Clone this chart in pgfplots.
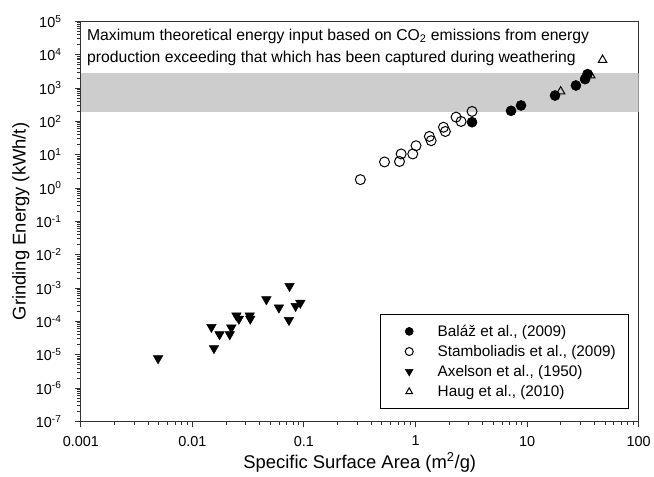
\documentclass[border=0pt]{standalone}
\usepackage{fontspec}
\setmainfont{Liberation Sans}
\usepackage{pgfplots}
\pgfplotsset{compat=1.18}
\usetikzlibrary{calc}
\definecolor{band}{RGB}{205,205,205}
\definecolor{axisgray}{RGB}{50,50,50}
\begin{document}
\begin{tikzpicture}
\begin{axis}[
  xmode=log, ymode=log,
  width=558.5bp, height=400.5bp, scale only axis,
  xmin=0.001, xmax=100, ymin=1e-7, ymax=1e5,
  xtick={0.001,0.01,0.1,1,10,100},
  xticklabels={0.001,0.01,0.1,1,10,100},
  minor xtick={0.002,0.003,0.004,0.005,0.006,0.007,0.008,0.009,
    0.02,0.03,0.04,0.05,0.06,0.07,0.08,0.09,
    0.2,0.3,0.4,0.5,0.6,0.7,0.8,0.9,
    2,3,4,5,6,7,8,9,20,30,40,50,60,70,80,90},
  ytick={1e-7,1e-6,1e-5,1e-4,1e-3,1e-2,1e-1,1,10,100,1000,1e4,1e5},
  yticklabels={10\textsuperscript{-7},10\textsuperscript{-6},10\textsuperscript{-5},10\textsuperscript{-4},10\textsuperscript{-3},10\textsuperscript{-2},10\textsuperscript{-1},10\textsuperscript{0},10\textsuperscript{1},10\textsuperscript{2},10\textsuperscript{3},10\textsuperscript{4},10\textsuperscript{5}},
  minor ytick={},
  tick pos=left, tick align=outside,
  major tick length=6bp, minor tick length=3.5bp,
  axis line style={axisgray, line width=1.2bp},
  every tick/.style={axisgray, line width=1bp},
  ticklabel style={font=\fontsize{14.5}{16}\selectfont},
  yticklabel style={xshift=-10bp},
  xticklabel style={yshift=-5bp},
  xlabel={Specific Surface Area (m\textsuperscript{2}/g)},
  ylabel={Grinding Energy (kWh/t)},
  label style={font=\fontsize{18.5}{20}\selectfont},
  xlabel style={at={(rel axis cs:0.5,0)}, anchor=center, yshift=-41bp},
  ylabel style={at={(rel axis cs:0,0.5)}, anchor=center, yshift=60bp},
  legend style={at={(rel axis cs:1,0)}, anchor=south east, xshift=-10bp, yshift=12bp,
    draw=black, line width=1bp, font=\fontsize{15.4}{18}\selectfont,
    inner xsep=10.5bp, inner ysep=9bp, row sep=3.5bp},
  legend cell align=left,
  legend image code/.code={\path[draw=none] (0bp,0bp) -- (45bp,0bp); \draw[#1, every mark/.append style={scale=0.8}] plot coordinates {(18.5bp,0bp)};},
]
\addplot[fill=band, draw=none, forget plot] coordinates {(0.001,195) (100,195) (100,2750) (0.001,2750)} -- cycle;
\node[anchor=north west, align=left, font=\fontsize{15.8}{23}\selectfont, inner sep=0pt]
  at ($(rel axis cs:0,1)+(6bp,-7bp)$) {Maximum theoretical energy input based on CO\textsubscript{2} emissions from energy\\production exceeding that which has been captured during weathering};
\addplot[only marks, mark=*, mark size=5bp, mark options={fill=black, draw=black, line width=0.6bp}]
  coordinates {(3.21,95) (7.18,209) (8.82,302) (17.8,600) (27.4,1200) (33.1,1860) (34.8,2630)};
\addlegendentry{Bal\'{a}\v{z} et al., (2009)}
\addplot[only marks, mark=o, mark size=5bp, mark options={draw=black, fill=white, line width=1bp}]
  coordinates {(0.32,1.8) (0.527,6.1) (0.718,6.3) (0.743,10.6) (0.944,10.6) (1.01,18.7) (1.33,35.5) (1.38,26.5) (1.78,67) (1.85,50) (2.31,135) (2.56,100) (3.21,200)};
\addlegendentry{Stamboliadis et al., (2009)}
\addplot[only marks, mark=triangle*, mark size=5.5bp, mark options={rotate=180, fill=black, draw=black, line width=0.5bp}]
  coordinates {(0.00492,7.8e-6) (0.0156,1.57e-5) (0.0148,6.8e-5) (0.0175,4.1e-5) (0.0216,4.1e-5) (0.0223,6.5e-5) (0.0248,1.5e-4) (0.0261,1.2e-4) (0.0326,1.5e-4) (0.033,1.2e-4) (0.046,4.6e-4) (0.0596,2.6e-4) (0.0742,1.15e-3) (0.0733,1.1e-4) (0.0841,2.9e-4) (0.0927,3.6e-4)};
\addlegendentry{Axelson et al., (1950)}
\addplot[only marks, mark=triangle, mark size=4.8bp, mark options={draw=black, fill=white, line width=1bp}]
  coordinates {(20.0,795) (37.3,2400) (47.5,7050)};
\addlegendentry{Haug et al., (2010)}
\end{axis}
\path ($(current axis.south west)+(-81bp,-55bp)$) rectangle ($(current axis.north east)+(14.5bp,21.5bp)$);
\end{tikzpicture}
\end{document}
